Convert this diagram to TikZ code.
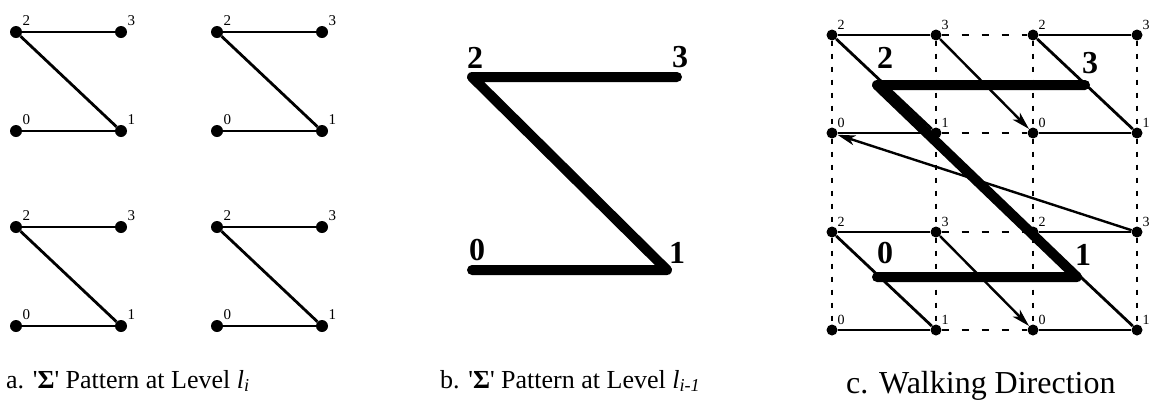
\documentclass[tikz,border=0pt]{standalone}
\usepackage{fontspec}
\setmainfont{Liberation Serif}[Ligatures=TeXOff]
\usetikzlibrary{arrows.meta}

\begin{document}
\begin{tikzpicture}[
x=1pt, y=-1pt,
dot/.style={circle, fill, inner sep=0pt, minimum size=12pt},
cdot/.style={circle, fill, inner sep=0pt, minimum size=11pt},
zline/.style={line width=2.8pt},
hgrid/.style={line width=1.4pt, dash pattern=on 7pt off 13pt},
vgrid/.style={line width=1.4pt, dash pattern=on 5pt off 8pt},
thickz/.style={line width=10pt, line cap=round, line join=round},
walk/.style={line width=2.4pt, -{Stealth[length=18pt, width=10pt, inset=5pt]}},
lbl/.style={font=\fontsize{15}{15}\selectfont, inner sep=0pt, label distance=3pt},
clbl/.style={font=\fontsize{14}{14}\selectfont, inner sep=0pt, label distance=2pt},
bignum/.style={font=\fontsize{32}{32}\selectfont\bfseries, inner sep=0pt},
captxt/.style={font=\fontsize{26}{26}\selectfont, anchor=base west, inner sep=0pt}
]
\useasboundingbox (0,0) rectangle (1157,405);

% a. four small patterns
\foreach \px/\py/\n in {16/32/tl, 217/32/tr, 16/227/bl, 217/227/br} {
  \node[dot, label={[lbl]45:2}] (a\n2) at (\px,\py) {};
  \node[dot, label={[lbl]45:3}] (a\n3) at (\px+105,\py) {};
  \node[dot, label={[lbl]45:0}] (a\n0) at (\px,\py+99) {};
  \node[dot, label={[lbl]45:1}] (a\n1) at (\px+105,\py+99) {};
  \draw[zline] (a\n2) -- (a\n3);
  \draw[zline] (a\n2) -- (a\n1);
  \draw[zline] (a\n0) -- (a\n1);
}

% b. pattern one level up
\coordinate (b2) at (472,77);
\coordinate (b3) at (677,77);
\coordinate (b0) at (472,270);
\coordinate (b1) at (667,270);
\draw[thickz] (b0) -- (b1) -- (b2) -- (b3);
\node[bignum] (lb2) at (475,58) {2};
\node[bignum] (lb3) at (680,57) {3};
\node[bignum] (lb0) at (477,250) {0};
\node[bignum] (lb1) at (677,253) {1};

% c. walking direction
\foreach \px/\py/\n in {832/35/tl, 1033/35/tr, 832/232/bl, 1033/232/br} {
  \node[cdot, label={[clbl]45:2}] (c\n2) at (\px,\py) {};
  \node[cdot, label={[clbl]45:3}] (c\n3) at (\px+104,\py) {};
  \node[cdot, label={[clbl]45:0}] (c\n0) at (\px,\py+98) {};
  \node[cdot, label={[clbl]45:1}] (c\n1) at (\px+104,\py+98) {};
  \draw[zline] (c\n2) -- (c\n3);
  \draw[zline] (c\n2) -- (c\n1);
  \draw[zline] (c\n0) -- (c\n1);
}
\draw[vgrid] (ctl2) -- (ctl0) -- (cbl2) -- (cbl0);
\draw[vgrid] (ctl3) -- (ctl1) -- (cbl3) -- (cbl1);
\draw[vgrid] (ctr2) -- (ctr0) -- (cbr2) -- (cbr0);
\draw[vgrid] (ctr3) -- (ctr1) -- (cbr3) -- (cbr1);
\draw[hgrid] (ctl3) -- (ctr2);
\draw[hgrid] (ctl1) -- (ctr0);
\draw[hgrid] (cbl3) -- (cbr2);
\draw[hgrid] (cbl1) -- (cbr0);
\draw[walk] (ctl3) -- (ctr0);
\draw[walk] (cbl3) -- (cbr0);
\draw[walk] (cbr3) -- (ctl0);

\coordinate (cz2) at (877,85);
\coordinate (cz3) at (1085,85);
\coordinate (cz0) at (877,277);
\coordinate (cz1) at (1077,277);
\draw[thickz] (cz0) -- (cz1) -- (cz2) -- (cz3);
\node[bignum] (lc2) at (885,58) {2};
\node[bignum] (lc3) at (1090,63) {3};
\node[bignum] (lc0) at (885,253) {0};
\node[bignum] (lc1) at (1083,255) {1};

% captions
\node[captxt] (capa) at (6,388) {a. '\textbf{Σ}' Pattern at Level \textit{l}\textsubscript{\textit{i}}};
\node[captxt] (capb) at (440,388) {b. '\textbf{Σ}' Pattern at Level \textit{l}\textsubscript{\textit{i-1}}};
\node[captxt, font=\fontsize{32}{32}\selectfont] (capc) at (846,393) {c. Walking Direction};
\end{tikzpicture}
\end{document}
